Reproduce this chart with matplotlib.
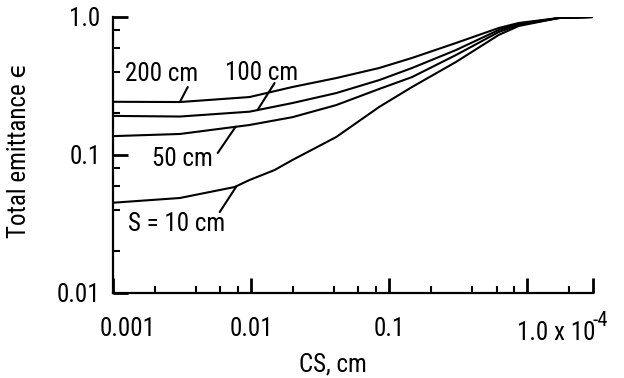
import numpy as np
import matplotlib
matplotlib.use("Agg")
import matplotlib.pyplot as plt
import matplotlib.transforms as mtransforms
from matplotlib import font_manager as fm
from matplotlib.ticker import FixedLocator, NullFormatter

# pick a narrow sans face if one is around
names = {f.name for f in fm.fontManager.ttflist}
stretch = 'normal'
if 'Liberation Sans Narrow' in names:
    face = 'Liberation Sans Narrow'
elif 'Roboto Condensed' in names:
    face = 'Roboto Condensed'
elif any(f.name == 'DejaVu Sans' and 'condensed' in str(f.stretch) for f in fm.fontManager.ttflist):
    face, stretch = 'DejaVu Sans', 'condensed'
else:
    face = 'Liberation Sans'
plt.rcParams['font.family'] = [face, 'DejaVu Sans']
plt.rcParams['font.stretch'] = stretch

# CS, cm
cs = [0.001, 0.00305, 0.00975, 0.01995, 0.0414, 0.0848, 0.1466, 0.305, 0.622, 0.869, 1.69, 3.0]
eps_200 = [0.243, 0.242, 0.263, 0.311, 0.361, 0.427, 0.505, 0.648, 0.832, 0.905, 0.983, 1.0]
eps_100 = [0.192, 0.190, 0.206, 0.238, 0.281, 0.349, 0.427, 0.576, 0.805, 0.89, 0.983, 1.0]
eps_50 = [0.137, 0.142, 0.165, 0.188, 0.230, 0.301, 0.367, 0.530, 0.778, 0.875, 0.983, 1.0]
cs_10 = [0.001, 0.00305, 0.0076, 0.00975, 0.0148, 0.01995, 0.0414, 0.0848, 0.1466, 0.305, 0.622, 0.869, 1.69, 3.0]
eps_10 = [0.0451, 0.0488, 0.0586, 0.0659, 0.0778, 0.092, 0.135, 0.223, 0.311, 0.472, 0.741, 0.861, 0.983, 1.0]

# label text centre, leader start, x where the leader meets the curve
curves = [
    (cs, eps_200, "200 cm", (0.00226, 0.386), (0.00348, 0.311), 0.00305),
    (cs, eps_100, "100 cm", (0.0119, 0.393), (0.0148, 0.332), 0.01114),
    (cs, eps_50, "50 cm", (0.0032, 0.0935), (0.00573, 0.1033), 0.00773),
    (cs_10, eps_10, "S = 10 cm", (0.0029, 0.0316), (0.00593, 0.0386), 0.00786),
]

fig = plt.figure(figsize=(6.24, 3.78), dpi=100)
ax = fig.add_axes([113 / 624, 1 - 293 / 378, 480 / 624, 276 / 378])

fs = 18
for xs, eps, label, txt_pos, lead_start, x_anchor in curves:
    ax.plot(xs, eps, color='black', lw=1.5, solid_capstyle='round')
    y_anchor = 10 ** np.interp(np.log10(x_anchor), np.log10(xs), np.log10(eps))
    ax.text(*txt_pos, label, ha='center', va='center', fontsize=fs)
    ax.annotate('', xy=(x_anchor, y_anchor), xytext=lead_start,
                arrowprops=dict(arrowstyle='-', lw=1.5, color='black',
                                shrinkA=0, shrinkB=0))

ax.set_xscale('log')
ax.set_yscale('log')
ax.set_xlim(0.001, 3.0)
ax.set_ylim(0.01, 1.0)

for s in ['top', 'right']:
    ax.spines[s].set_visible(False)
for s in ['left', 'bottom']:
    ax.spines[s].set_linewidth(1.6)

ax.xaxis.set_major_locator(FixedLocator([0.001, 0.01, 0.1, 1.0, 3.0]))
ax.xaxis.set_minor_locator(FixedLocator([m * 10.0 ** e for e in (-3, -2, -1, 0)
                                         for m in (2, 4, 6, 8) if m * 10.0 ** e < 3]))
ax.set_xticklabels(['0.001', '0.01', '0.1', '', ''])
ax.xaxis.set_minor_formatter(NullFormatter())

ax.yaxis.set_major_locator(FixedLocator([0.01, 0.1, 1.0]))
ax.yaxis.set_minor_locator(FixedLocator([0.02, 0.04, 0.06, 0.08, 0.2, 0.4, 0.6, 0.8]))
ax.set_yticklabels(['0.01', '0.1', '1.0'])
ax.yaxis.set_minor_formatter(NullFormatter())

ax.tick_params(axis='both', which='major', direction='in', length=11, width=2,
               labelsize=fs, pad=9)
ax.tick_params(axis='both', which='minor', direction='in', length=5, width=1.5)
ax.tick_params(axis='x', which='major', pad=17)

labels = ax.get_xticklabels()
labels[0].set_transform(labels[0].get_transform() +
                        mtransforms.ScaledTranslation(0.15, 0, fig.dpi_scale_trans))

# the odd "1.0 x 10^-4" label at CS = 1
trans = mtransforms.blended_transform_factory(ax.transData, ax.transAxes)
ax.text(1.0, -0.145, '1.0 x 10', transform=trans + mtransforms.ScaledTranslation(
    -0.10, 0, fig.dpi_scale_trans), ha='left', va='center', fontsize=fs, clip_on=False)
ax.text(1.0, -0.10, '-4', transform=trans + mtransforms.ScaledTranslation(
    0.73, 0, fig.dpi_scale_trans), ha='center', va='center', fontsize=fs - 3, clip_on=False)

ax.set_xlabel('CS, cm', fontsize=fs)
ax.set_ylabel('Total emittance \u03f5', fontsize=fs)
ax.xaxis.set_label_coords(0.458, -0.214)
ax.yaxis.set_label_coords(-0.17, 0.518)

fig.savefig('out.png', dpi=100)
